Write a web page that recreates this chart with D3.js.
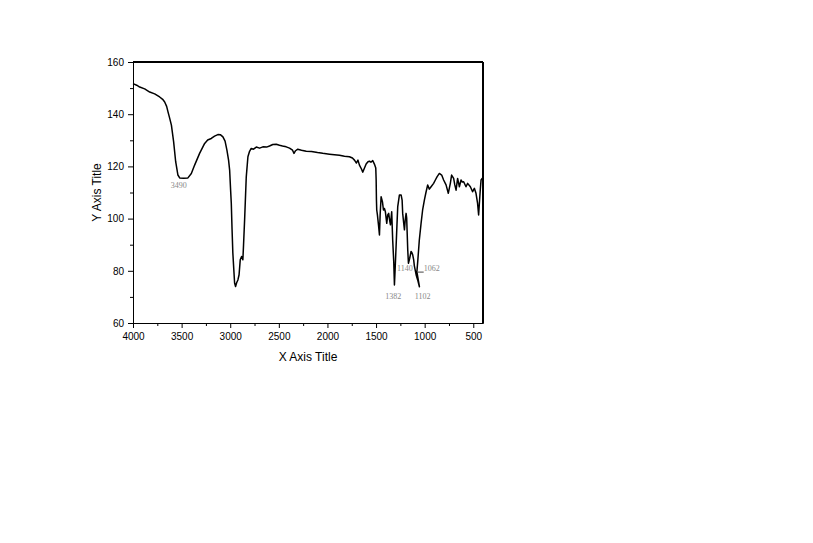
<!DOCTYPE html>
<html>
<head>
<meta charset="utf-8">
<script src="https://cdn.jsdelivr.net/npm/d3@7"></script>
<style>
  body { margin: 0; background: #fff; }
  svg { display: block; font-family: Arial, "Liberation Sans", sans-serif; }
</style>
</head>
<body>
<div id="chart"></div>
<script>
// wavenumber (cm-1) and transmittance
var wavenumber = [4000,3962,3931,3880,3828,3777,3726,3695,3674,3654,3640,3623,3605,3582,3561,3538,3520,3479,3435,3400,
  3366,3315,3263,3232,3195,3161,3127,3099,3075,3053,3034,3017,3006,2996,2989,2981,2973,2963,2955,2945,
  2934,2921,2909,2897,2883,2870,2863,2852,2835,2818,2801,2784,2760,2732,2698,2664,2626,2596,2562,2527,
  2493,2462,2424,2390,2359,2344,2328,2305,2267,2218,2164,2102,2048,1979,1928,1876,1825,1774,1743,1722,
  1702,1686,1671,1650,1637,1619,1602,1583,1568,1553,1534,1517,1503,1499,1496,1493,1486,1475,1465,1458,
  1448,1434,1424,1414,1404,1390,1380,1370,1361,1352,1339,1329,1318,1311,1304,1294,1285,1277,1260,1242,
  1232,1226,1217,1208,1200,1191,1185,1181,1174,1167,1154,1140,1131,1123,1113,1106,1088,1072,1054,1080,
  1070,1055,1037,1021,1003,988,969,952,934,908,890,873,849,825,805,780,757,746,736,723,
  702,690,677,661,643,626,613,599,575,558,530,507,489,472,456,445,435,428,420,407];
var transmittance = [151.7,151.1,150.4,149.7,148.5,147.8,146.6,145.7,144.7,143.0,140.9,138.5,135.8,129.4,121.8,116.7,115.6,115.5,115.6,117.3,
  120.5,125.0,128.8,130.1,130.7,131.6,132.2,132.1,131.3,129.7,126.2,122.4,118.6,110.9,105.9,95.7,86.8,80.4,75.3,74.0,
  75.4,76.5,78.5,84.2,85.5,84.2,89.9,99.5,116.0,123.7,125.8,126.9,126.6,127.4,127.0,127.5,127.4,127.8,128.4,128.5,
  128.1,127.8,127.5,127.0,126.2,125.0,126.0,126.6,126.2,125.8,125.7,125.3,125.0,124.7,124.5,124.3,123.9,123.7,123.2,122.4,
  121.3,122.4,120.5,119.0,117.8,119.4,120.9,121.8,122.0,121.6,122.2,120.9,119.4,114.8,107.1,103.3,101.4,97.6,93.7,101.4,
  108.4,106.4,103.3,103.9,102.6,98.2,101.4,102.0,99.5,97.6,102.6,91.8,83.4,74.6,80.4,89.3,97.6,104.6,109.0,109.0,
  107.1,102.0,98.7,95.7,99.5,102.0,100.2,95.7,88.0,82.9,84.8,87.4,86.9,86.1,84.2,81.9,78.5,76.5,73.9,79.6,
  84.2,91.8,98.2,103.3,107.1,109.8,112.9,111.3,112.2,113.5,114.8,116.0,117.3,116.7,114.8,112.9,109.7,111.7,113.5,116.7,
  115.4,112.9,110.9,115.4,112.2,114.8,114.0,114.1,112.2,113.5,112.2,110.3,111.6,109.7,105.9,101.4,107.1,111.0,114.8,115.5];

// peak labels: [wavenumber, value] where the text sits
var peakText = ["3490", "1382", "1140", "1062", "1102"];
var peakX = [3530, 1322, 1204, 926, 1020];
var peakY = [111.7, 69.3, 80.0, 80.0, 69.3];

var xMajor = [4000, 3500, 3000, 2500, 2000, 1500, 1000, 500];
var xMinor = [3750, 3250, 2750, 2250, 1750, 1250, 750];
var yMajor = [60, 80, 100, 120, 140, 160];
var yMinor = [70, 90, 110, 130, 150];

var margin = {top: 62, right: 330, bottom: 220, left: 133},
    width = 813 - margin.left - margin.right,
    height = 543 - margin.top - margin.bottom;

var svg = d3.select("#chart")
  .append("svg")
    .attr("width", 813)
    .attr("height", 543)
  .append("g")
    .attr("transform", "translate(" + margin.left + "," + margin.top + ")");

var x = d3.scaleLinear().domain([4000, 400]).range([0, width]);
var y = d3.scaleLinear().domain([60, 160]).range([height, 0]);

// minor ticks first
svg.append("g")
    .attr("transform", "translate(0," + height + ")")
    .call(d3.axisBottom(x).tickValues(xMinor).tickSize(3).tickSizeOuter(0).tickFormat(""));
svg.append("g")
    .call(d3.axisLeft(y).tickValues(yMinor).tickSize(3).tickSizeOuter(0).tickFormat(""));

var xAxis = svg.append("g")
    .attr("transform", "translate(0," + height + ")")
    .call(d3.axisBottom(x).tickValues(xMajor).tickSize(5).tickSizeOuter(0).tickPadding(5).tickFormat(d3.format("d")));
var yAxis = svg.append("g")
    .call(d3.axisLeft(y).tickValues(yMajor).tickSize(5).tickSizeOuter(0).tickPadding(4).tickFormat(d3.format("d")));

svg.selectAll(".tick text").style("font-size", "10px").attr("fill", "#000");
svg.selectAll(".domain, .tick line").attr("stroke", "#000");

// top and right frame (heavier)
svg.append("line")
    .attr("x1", 0).attr("x2", width)
    .attr("y1", y(160)).attr("y2", y(160))
    .attr("stroke", "#000").attr("stroke-width", 2);
svg.append("line")
    .attr("x1", x(400)).attr("x2", x(400))
    .attr("y1", y(160)).attr("y2", y(60))
    .attr("stroke", "#000").attr("stroke-width", 2);

// spectrum
var points = wavenumber.map(function(w, i) { return [w, transmittance[i]]; });
svg.append("path")
    .datum(points)
    .attr("fill", "none")
    .attr("stroke", "#000")
    .attr("stroke-width", 1.5)
    .attr("stroke-linejoin", "round")
    .attr("d", d3.line()
      .x(function(d) { return x(d[0]); })
      .y(function(d) { return y(d[1]); }));

// peak labels
svg.selectAll(".peak")
    .data(peakText)
    .enter()
    .append("text")
      .attr("class", "peak")
      .attr("x", function(d, i) { return x(peakX[i]); })
      .attr("y", function(d, i) { return y(peakY[i]); })
      .attr("text-anchor", "middle")
      .style("font-family", "'Liberation Serif', serif")
      .style("font-size", "8px")
      .attr("fill", "#888")
      .text(function(d) { return d; });

// little leader for 1062
svg.append("line")
    .attr("x1", x(1070)).attr("x2", x(1010))
    .attr("y1", y(79.5)).attr("y2", y(79.5))
    .attr("stroke", "#444");

// axis titles
svg.append("text")
    .attr("text-anchor", "middle")
    .attr("x", width / 2)
    .attr("y", height + 38)
    .style("font-size", "12px")
    .text("X Axis Title");

svg.append("text")
    .attr("text-anchor", "middle")
    .attr("transform", "rotate(-90)")
    .attr("x", -(height / 2))
    .attr("y", -32)
    .style("font-size", "12px")
    .text("Y Axis Title");
</script>
</body>
</html>
